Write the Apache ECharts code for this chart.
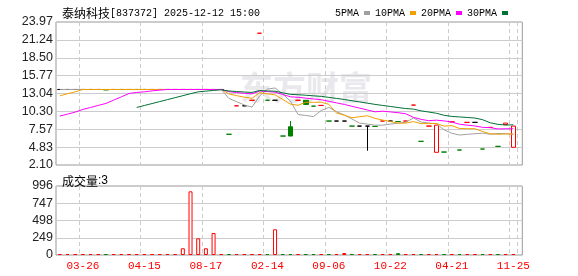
<!DOCTYPE html>
<html><head><meta charset="utf-8">
<script src="https://cdn.jsdelivr.net/npm/echarts@6/dist/echarts.min.js"></script>
<style>html,body{margin:0;padding:0;background:#fff}#c{width:578px;height:276px}</style>
</head><body><div id="c"></div>
<script>
const stockName = '泰纳科技';
const stockInfo = '[837372] 2025-12-12 15:00';
const volTitle = '成交量';
const legendNames = ['5PMA', '10PMA', '20PMA', '30PMA'];
const tickLabels = ['03-26', '04-15', '08-17', '02-14', '09-06', '10-22', '04-21', '11-25'];
const priceTicks = ['2.10', '4.83', '7.57', '10.30', '13.04', '15.77', '18.50', '21.24', '23.97'];
const priceMin = 2.10, priceMax = 23.97;
const volMax = 996, volStep = 249;

const opens = [13.65,13.65,13.65,13.65,13.65,13.65,13.6,13.65,13.65,13.65,
  13.65,13.65,13.65,13.65,13.65,13.65,13.65,13.65,13.65,13.65,
  13.65,13.65,6.8,11.15,11.15,12.0,22.25,12.0,12.0,6.53,
  7.95,12.0,12.0,11.1,11.21,8.82,8.82,8.82,8.05,8.05,
  8.05,8.0,8.82,8.82,8.75,8.82,11.26,5.72,8.05,4.04,
  4.08,8.7,4.39,8.62,8.62,4.54,7.85,4.95,8.29,4.8];
const closes = [13.65,13.65,13.65,13.65,13.65,13.65,13.6,13.65,13.65,13.65,
  13.65,13.65,13.65,13.65,13.65,13.65,13.65,13.65,13.65,13.65,
  13.65,13.65,6.8,11.15,11.15,12.0,22.25,12.0,12.0,6.53,
  6.53,12.0,11.36,11.1,11.21,8.82,8.82,8.82,8.05,8.05,
  8.05,8.0,8.82,8.82,8.75,8.82,11.26,5.72,8.05,8.2,
  4.08,8.7,4.39,8.62,8.62,4.54,7.85,4.95,8.51,8.05];
const lows = [13.65,13.65,13.65,13.65,13.65,13.65,13.6,13.65,13.65,13.65,
  13.65,13.65,13.65,13.65,13.65,13.65,13.65,13.65,13.65,13.65,
  13.65,13.65,6.8,11.15,11.15,12.0,22.25,12.0,12.0,6.53,
  6.53,12.0,11.36,11.1,11.21,8.82,8.82,8.82,8.05,8.05,
  4.28,8.0,8.82,8.82,8.75,8.82,11.26,5.72,8.05,4.04,
  4.08,8.7,4.39,8.62,8.62,4.54,7.85,4.95,8.29,4.8];
const highs = [13.65,13.65,13.65,13.65,13.65,13.65,13.6,13.65,13.65,13.65,
  13.65,13.65,13.65,13.65,13.65,13.65,13.65,13.65,13.65,13.65,
  13.65,13.65,6.8,11.15,11.15,12.0,22.25,12.0,12.0,6.53,
  8.82,12.0,12.0,11.1,11.21,8.82,8.82,8.82,8.05,8.05,
  8.05,8.0,8.82,8.82,8.75,8.82,11.26,5.72,8.05,8.2,
  4.08,8.7,4.39,8.62,8.62,4.54,7.85,4.95,8.51,8.05];
const volumes = [4,2,3,5,2,6,3,2,4,3,
  5,2,3,4,2,6,97,919,241,97,
  317,3,5,2,4,3,6,2,371,4,
  3,5,2,3,6,2,4,28,3,2,
  5,4,3,2,26,3,4,2,5,3,
  2,4,3,2,5,3,4,2,3,3];
const ma5 = [13.65,13.65,13.65,13.65,13.65,13.65,13.65,13.65,13.65,13.65,
  13.65,13.65,13.65,13.65,13.65,13.65,13.65,13.65,13.65,13.65,
  13.65,13.65,12.28,11.78,11.28,10.95,12.67,13.71,13.88,12.96,
  11.86,9.81,9.68,9.50,10.44,10.90,10.26,9.75,9.14,8.51,
  8.36,8.19,8.19,8.35,8.49,8.64,9.29,8.67,8.52,8.41,
  7.46,6.95,6.68,6.80,6.88,6.97,6.80,6.92,6.89,6.78];
const ma10 = [12.68,13.0,13.3,13.65,13.65,13.65,13.65,13.65,13.65,13.65,
  13.65,13.65,13.65,13.65,13.65,13.65,13.65,13.65,13.65,13.65,
  13.65,13.65,12.97,12.71,12.47,12.30,13.16,12.98,12.83,12.12,
  11.41,11.24,11.70,11.69,11.70,11.38,10.04,9.72,9.32,9.48,
  9.63,9.23,8.97,8.75,8.50,8.50,8.74,8.43,8.43,8.45,
  8.05,8.12,7.68,7.66,7.65,7.22,6.88,6.80,6.85,6.83];
const ma20 = [9.58,9.88,10.19,10.6,10.9,11.21,11.52,12.02,12.52,13.04,
  13.2,13.29,13.44,13.55,13.65,13.65,13.65,13.65,13.65,13.65,
  13.65,13.65,13.31,13.18,13.06,12.98,13.41,13.32,13.24,12.88,
  12.53,12.45,12.33,12.20,12.08,11.84,11.60,11.36,11.08,10.80,
  10.52,10.23,10.33,10.22,10.10,9.94,9.39,9.08,8.88,8.96,
  8.84,8.68,8.33,8.20,8.07,7.86,7.81,7.62,7.64,7.64];
const ma30 = ['-','-','-','-','-','-','-','-','-','-',
  10.9,11.2,11.5,11.8,12.1,12.4,12.7,13.0,13.29,13.4,
  13.5,13.6,13.42,13.34,13.26,13.2,13.49,13.43,13.38,13.14,
  12.90,12.85,12.77,12.68,12.60,12.44,12.28,12.12,11.93,11.75,
  11.56,11.37,11.21,11.05,10.89,10.73,10.65,10.38,10.20,10.01,
  9.70,9.53,9.45,9.37,9.28,9.03,8.55,8.32,8.20,8.25];

const UP = '#ff0000', DOWN = '#008000', FLAT = '#000000';
const maColors = ['#a0a0a0', '#f0a000', '#ff00ff', '#007035'];
const labelFirst = 3, labelStep = 8;
const isLabeled = i => i >= labelFirst && (i - labelFirst) % labelStep === 0;
const N = closes.length;
const cats = closes.map((_, i) => 'k' + i);

function kind(i) {
  const o = opens[i], c = closes[i];
  if (c > o) return 'up';
  if (c < o) return 'down';
  if (i === 0 || c === closes[i - 1]) return 'flat';
  return c > closes[i - 1] ? 'up' : 'down';
}
const kData = closes.map((c, i) => {
  const k = kind(i);
  const stroke = k === 'up' ? UP : k === 'down' ? DOWN : FLAT;
  const fill = k === 'up' ? '#ffffff' : stroke;
  return { value: [opens[i], c, lows[i], highs[i]],
    itemStyle: { color: fill, color0: fill, borderColor: stroke, borderColor0: stroke, borderColorDoji: stroke } };
});
const vData = volumes.map((v, i) => {
  const down = kind(i) === 'down';
  return { value: v, itemStyle: { color: down ? DOWN : '#ffffff', borderColor: down ? DOWN : UP, borderWidth: 1 } };
});

const L = 56, W = 461.2, FW = 466.3;
const monoFont = '"Liberation Mono", monospace';
const chart = echarts.init(document.getElementById('c'), null, { renderer: 'canvas' });
const catAxisBase = {
  type: 'category', data: cats, boundaryGap: true,
  axisLine: { show: false }, axisTick: { show: false },
  splitLine: { show: true, interval: (i) => isLabeled(i), lineStyle: { color: '#cccccc', type: [4, 3], width: 1 } }
};
chart.setOption({
  animation: false,
  title: [
    { left: 57, top: 2, text: '{c|' + stockName + '}{l|' + stockInfo + '}',
      textStyle: { fontWeight: 'normal', rich: {
        c: { fontFamily: '"Noto Sans CJK SC"', fontSize: 12, fontWeight: 'normal', color: '#000' },
        l: { fontFamily: monoFont, fontSize: 10, fontWeight: 'normal', color: '#000' } } } },
    { left: 57, top: 170, text: '{c|' + volTitle + '}{l|:' + volumes[N - 1] + '}',
      textStyle: { fontWeight: 'normal', rich: {
        c: { fontFamily: '"Noto Sans CJK SC"', fontSize: 12, fontWeight: 'normal', color: '#000' },
        l: { fontFamily: '"Liberation Sans"', fontSize: 12, fontWeight: 'normal', color: '#000' } } } }
  ],
  legend: {
    data: legendNames, right: 65, top: 3, align: 'right', icon: 'rect',
    itemWidth: 6, itemHeight: 4, itemGap: 5, selectedMode: false,
    textStyle: { fontFamily: monoFont, fontSize: 10, color: '#000' }
  },
  graphic: [{ type: 'text', left: 240, top: 71, z: -5, silent: true,
    style: { text: '东方财富', font: 'bold 33px "Noto Sans CJK SC"', fill: '#e9e9ed' } }],
  grid: [
    { left: L, top: 22, width: W, height: 143, show: false },
    { left: L, top: 186, width: W, height: 69, show: false },
    { left: L, top: 22, width: FW, height: 143, show: true, borderColor: '#999999', borderWidth: 1, backgroundColor: 'transparent' },
    { left: L, top: 186, width: FW, height: 69, show: true, borderColor: '#999999', borderWidth: 1, backgroundColor: 'transparent' }
  ],
  xAxis: [
    Object.assign({}, catAxisBase, { gridIndex: 0, axisLabel: { show: false } }),
    Object.assign({}, catAxisBase, { gridIndex: 1, axisLabel: {
      show: true, interval: (i) => isLabeled(i), margin: 6,
      formatter: (v, i) => tickLabels[(i - labelFirst) / labelStep],
      color: '#ff0000', fontFamily: monoFont, fontSize: 11 } }),
    { gridIndex: 2, type: 'value', show: false, min: 0, max: 1 },
    { gridIndex: 3, type: 'value', show: false, min: 0, max: 1 }
  ],
  yAxis: [
    { gridIndex: 0, type: 'value', min: priceMin, max: priceMax, show: false, splitLine: { show: false } },
    { gridIndex: 1, type: 'value', min: 0, max: volMax, show: false, splitLine: { show: false } },
    { gridIndex: 2, type: 'value', min: 0, max: priceTicks.length - 1, interval: 1,
      axisLine: { show: false }, axisTick: { show: false },
      axisLabel: { formatter: (v) => priceTicks[v], margin: 3, color: '#222', fontFamily: '"Liberation Sans"', fontSize: 12.5 },
      splitLine: { lineStyle: { color: '#cccccc', width: 1 } } },
    { gridIndex: 3, type: 'value', min: 0, max: volMax, interval: volStep,
      axisLine: { show: false }, axisTick: { show: false },
      axisLabel: { margin: 3, color: '#222', fontFamily: '"Liberation Sans"', fontSize: 12.5 },
      splitLine: { lineStyle: { color: '#cccccc', width: 1 } } }
  ],
  series: [
    { type: 'candlestick', name: 'K', xAxisIndex: 0, yAxisIndex: 0, data: kData, barWidth: 5, z: 2,
      itemStyle: { borderWidth: 1 } },
    ...[ma5, ma10, ma20, ma30].map((d, j) => ({
      type: 'line', name: legendNames[j], xAxisIndex: 0, yAxisIndex: 0, data: d,
      symbol: 'none', showSymbol: false, z: 3 + j, color: maColors[j],
      itemStyle: { color: maColors[j] }, lineStyle: { color: maColors[j], width: 1 } })),
    { type: 'bar', name: 'VOL', xAxisIndex: 1, yAxisIndex: 1, data: vData, barWidth: 4, barMinHeight: 1, z: 2 }
  ]
});
</script></body></html>
